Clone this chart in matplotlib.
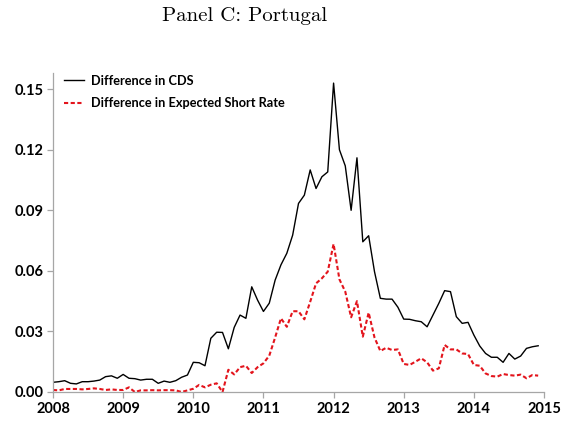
import numpy as np
import matplotlib
matplotlib.use("Agg")
import matplotlib.pyplot as plt

# Monthly observations, Jan 2008 .. Dec 2014
start_year = 2008
cds_diff = [
    0.0048, 0.0051, 0.0056, 0.0043, 0.0040, 0.0051, 0.0051, 0.0054, 0.0059, 0.0076, 0.0080, 0.0068,
    0.0087, 0.0068, 0.0066, 0.0059, 0.0063, 0.0063, 0.0043, 0.0054, 0.0048, 0.0056, 0.0073, 0.0084,
    0.0147, 0.0145, 0.0130, 0.0266, 0.0296, 0.0295, 0.0214, 0.0320, 0.0381, 0.0365, 0.0521, 0.0455,
    0.0399, 0.0440, 0.0554, 0.0630, 0.0687, 0.0777, 0.0934, 0.0975, 0.1100, 0.1008, 0.1066, 0.1090,
    0.1530, 0.1200, 0.1120, 0.0900, 0.1160, 0.0744, 0.0774, 0.0596, 0.0464, 0.0460, 0.0460, 0.0420,
    0.0361, 0.0360, 0.0353, 0.0348, 0.0323, 0.0381, 0.0439, 0.0502, 0.0497, 0.0373, 0.0340, 0.0345,
    0.0282, 0.0228, 0.0191, 0.0172, 0.0172, 0.0147, 0.0191, 0.0163, 0.0178, 0.0216, 0.0224, 0.0229,
]
short_rate_diff = [
    0.0010, 0.0008, 0.0015, 0.0015, 0.0015, 0.0013, 0.0015, 0.0018, 0.0015, 0.0010, 0.0013, 0.0010,
    0.0010, 0.0023, 0.0000, 0.0008, 0.0008, 0.0009, 0.0008, 0.0009, 0.0009, 0.0008, 0.0000, 0.0008,
    0.0016, 0.0035, 0.0023, 0.0036, 0.0043, 0.0000, 0.0110, 0.0087, 0.0123, 0.0130, 0.0094, 0.0123,
    0.0142, 0.0180, 0.0270, 0.0365, 0.0323, 0.0400, 0.0400, 0.0360, 0.0447, 0.0538, 0.0563, 0.0596,
    0.0733, 0.0558, 0.0497, 0.0370, 0.0450, 0.0274, 0.0393, 0.0270, 0.0203, 0.0219, 0.0208, 0.0211,
    0.0139, 0.0134, 0.0150, 0.0167, 0.0147, 0.0106, 0.0117, 0.0233, 0.0211, 0.0211, 0.0191, 0.0188,
    0.0134, 0.0130, 0.0092, 0.0079, 0.0076, 0.0089, 0.0084, 0.0081, 0.0086, 0.0068, 0.0084, 0.0081,
]
year_ticks = [2008, 2009, 2010, 2011, 2012, 2013, 2014, 2015]
y_ticks = [0.00, 0.03, 0.06, 0.09, 0.12, 0.15]
labels = ["Difference in CDS", "Difference in Expected Short Rate"]
title = "Panel C: Portugal"

t = start_year + np.arange(len(cds_diff)) / 12.0

fig = plt.figure(figsize=(5.62, 4.23), dpi=100)
ax = fig.add_axes([0.0943, 0.0733, 0.8737, 0.7541])

ax.plot(t, cds_diff, color='black', lw=1.0, label=labels[0])
ax.plot(t, short_rate_diff, color='#e3141c', lw=1.5, ls=(0, (2.0, 1.2)), label=labels[1])

ax.set_xlim(2008, 2015)
ax.set_ylim(0, 0.158)
ax.set_xticks(year_ticks)
ax.set_yticks(y_ticks)
ax.set_xticklabels([str(y) for y in year_ticks])
ax.set_yticklabels([f"{v:.2f}" for v in y_ticks])
for sp in ['top', 'right']:
    ax.spines[sp].set_visible(False)
for sp in ['left', 'bottom']:
    ax.spines[sp].set_color('#a6a6a6')
    ax.spines[sp].set_linewidth(0.9)
ax.tick_params(axis='both', direction='out', color='#a6a6a6', length=4, width=0.9,
               labelsize=10.5, pad=3)
for lab in ax.get_xticklabels() + ax.get_yticklabels():
    lab.set_fontfamily('Lato')
    lab.set_fontweight('bold')

leg = ax.legend(loc='upper left', bbox_to_anchor=(0.0, 1.03), frameon=False,
                prop={'family': 'Lato', 'weight': 'bold', 'size': 9.2},
                handlelength=1.5, handletextpad=0.55, labelspacing=0.8)

fig.text(0.436, 0.962, title, ha='center', va='center', fontsize=15,
         family=['cmr10', 'DejaVu Serif'])

fig.savefig('out.png', dpi=100)
